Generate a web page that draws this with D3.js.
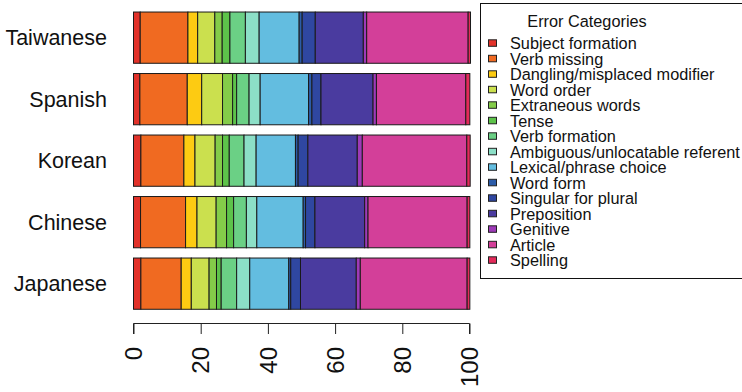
<!DOCTYPE html>
<html>
<head>
<meta charset="utf-8">
<script src="https://cdn.jsdelivr.net/npm/d3@7"></script>
<style>
  body { margin: 0; background: #fff; }
  svg { font-family: "Liberation Sans", Arial, Helvetica, sans-serif; }
</style>
</head>
<body>
<svg id="chart" width="742" height="392"></svg>
<script>
// languages, top to bottom
var languages = ["Taiwanese", "Spanish", "Korean", "Chinese", "Japanese"]

var errorTypes = ["Subject formation", "Verb missing", "Dangling/misplaced modifier", "Word order",
    "Extraneous words", "Tense", "Verb formation", "Ambiguous/unlocatable referent",
    "Lexical/phrase choice", "Word form", "Singular for plural", "Preposition",
    "Genitive", "Article", "Spelling"]

var colors = ["#e2322a", "#f06a21", "#fdcb12", "#cbe04e", "#84cc49", "#5dc34a", "#6bd085", "#8cdfc7",
    "#63bde0", "#2c5ca8", "#2f47a1", "#4a3b9f", "#9e3ab8", "#d33f99", "#e42a5a"]

// percent of errors, same order as errorTypes
var taiwanese = [2.0, 14.2, 2.9, 5.1, 2.2, 2.3, 4.6, 4.1, 11.9, 0.9, 3.9, 14.3, 1.0, 30.2, 0.7]
var spanish   = [1.9, 14.1, 4.3, 6.2, 3.0, 1.2, 3.7, 3.3, 14.4, 1.0, 2.7, 15.5, 1.0, 26.6, 1.2]
var korean    = [2.2, 12.8, 3.3, 6.0, 2.2, 2.0, 4.4, 3.6, 11.7, 0.8, 2.9, 14.7, 1.5, 31.1, 1.0]
var chinese   = [2.1, 13.4, 3.4, 5.7, 3.1, 2.1, 3.8, 3.1, 13.8, 0.7, 2.8, 14.8, 1.0, 29.5, 0.8]
var japanese  = [2.2, 12.0, 3.0, 5.3, 2.2, 1.4, 4.6, 3.9, 11.6, 0.6, 2.9, 16.6, 1.2, 31.8, 0.8]

var xTicks = [0, 20, 40, 60, 80, 100]

var values = [taiwanese, spanish, korean, chinese, japanese]

var dimensions = {
    width: 742,
    height: 392,
    plotLeft: 133.5,
    plotRight: 469.5,
    plotTop: 6.9,
    plotBottom: 314.4
}

var svg = d3.select("#chart")

var xScale = d3.scaleLinear()
    .domain([0, 100])
    .range([dimensions.plotLeft, dimensions.plotRight])

var yScale = d3.scaleBand()
    .domain(languages)
    .range([dimensions.plotTop, dimensions.plotBottom])
    .paddingInner(1 / 6)
    .paddingOuter(1 / 12)

var color = d3.scaleOrdinal().domain(errorTypes).range(colors)

// stacked segments
var rows = languages.map(function(lang, i) {
    var acc = 0
    return errorTypes.map(function(t, j) {
        var seg = { lang: lang, type: t, x0: acc, x1: acc + values[i][j] }
        acc += values[i][j]
        return seg
    })
})

svg.append("g")
    .selectAll("g")
    .data(rows)
    .join("g")
    .selectAll("rect")
    .data(d => d)
    .join("rect")
    .attr("x", d => xScale(d.x0))
    .attr("width", d => Math.max(0, xScale(d.x1) - xScale(d.x0)))
    .attr("y", d => yScale(d.lang))
    .attr("height", yScale.bandwidth())
    .attr("fill", d => color(d.type))
    .attr("stroke", "#1a1a1a")
    .attr("stroke-width", 1)

// language labels
svg.append("g")
    .selectAll("text")
    .data(languages)
    .join("text")
    .attr("x", 107)
    .attr("y", d => yScale(d) + yScale.bandwidth() / 2)
    .attr("dy", "0.36em")
    .attr("text-anchor", "end")
    .attr("font-size", 21.5)
    .attr("fill", "#111")
    .text(d => d)

// x axis, R style
var xAxis = svg.append("g")
    .attr("transform", "translate(0,323.5)")
    .call(d3.axisBottom(xScale).tickValues(xTicks).tickSize(10.5).tickFormat(""))

xAxis.select(".domain").attr("stroke", "#222").attr("d", `M${dimensions.plotLeft},10.5V0H${dimensions.plotRight}V10.5`)
xAxis.selectAll(".tick line").attr("stroke", "#222")

svg.append("g")
    .selectAll("text")
    .data(xTicks)
    .join("text")
    .attr("transform", d => `translate(${xScale(d)},347) rotate(-90)`)
    .attr("text-anchor", "end")
    .attr("dy", "0.36em")
    .attr("font-size", 24)
    .attr("fill", "#111")
    .text(d => d)

// legend
var legend = svg.append("g")

legend.append("rect")
    .attr("x", 480.5)
    .attr("y", 3.5)
    .attr("width", 300)
    .attr("height", 275)
    .attr("fill", "white")
    .attr("stroke", "#111")
    .attr("stroke-width", 1)

legend.append("text")
    .attr("x", 587)
    .attr("y", 27.3)
    .attr("text-anchor", "middle")
    .attr("font-size", 16.3)
    .attr("fill", "#111")
    .text("Error Categories")

var items = legend.selectAll(".item")
    .data(errorTypes)
    .join("g")
    .attr("class", "item")
    .attr("transform", (d, i) => `translate(0,${49.3 + i * 15.5})`)

items.append("rect")
    .attr("x", 488.5)
    .attr("y", -9.5)
    .attr("width", 8)
    .attr("height", 6.5)
    .attr("fill", d => color(d))
    .attr("stroke", "#222")
    .attr("stroke-width", 1)

items.append("text")
    .attr("x", 510)
    .attr("y", 0)
    .attr("font-size", 16.3)
    .attr("fill", "#111")
    .text(d => d)
</script>
</body>
</html>
